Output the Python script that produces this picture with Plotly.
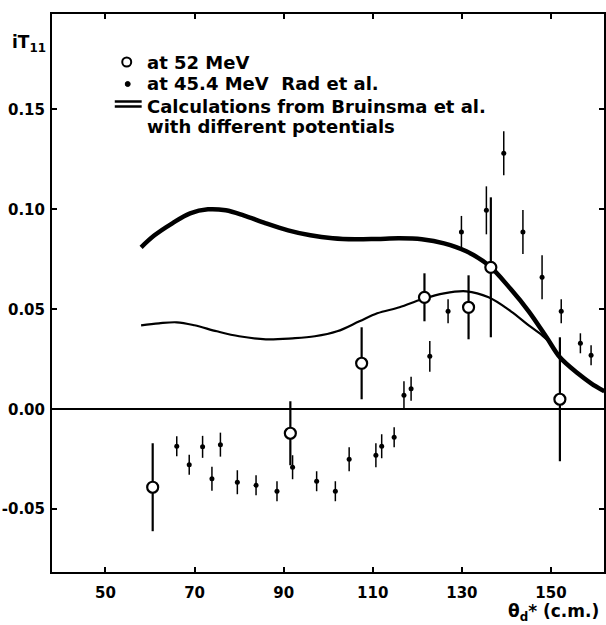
import plotly.graph_objects as go

# ---------------- data ----------------
curve_thick_theta = [58, 61, 65, 69, 73, 77, 81, 86, 91, 96, 101, 106, 111, 116, 121, 126,
                     131, 136, 141, 145, 149, 152, 156, 159, 162]
curve_thick_val = [0.081, 0.087, 0.093, 0.098, 0.100, 0.0995, 0.097, 0.093, 0.0895, 0.087,
                   0.0855, 0.085, 0.0852, 0.0855, 0.085, 0.083, 0.079, 0.072, 0.060, 0.049,
                   0.036, 0.026, 0.018, 0.013, 0.009]

curve_thin_theta = [58, 62, 66, 70, 75, 80, 86, 92, 97, 102, 107, 111, 116, 121, 126, 131,
                    136, 141, 145, 148, 150]
curve_thin_val = [0.042, 0.043, 0.0435, 0.042, 0.039, 0.0365, 0.035, 0.0355, 0.0365, 0.039,
                  0.044, 0.048, 0.051, 0.055, 0.058, 0.059, 0.056, 0.049, 0.042, 0.037, 0.033]

mev52_theta = [60.6, 91.5, 107.5, 121.6, 131.5, 136.5, 152.0]
mev52_val = [-0.039, -0.012, 0.023, 0.056, 0.051, 0.071, 0.005]
mev52_err = [0.022, 0.016, 0.018, 0.012, 0.016, 0.035, 0.031]

rad_theta = [66.0, 68.8, 71.8, 73.9, 75.8, 79.6, 83.8, 88.5, 92.0, 97.4, 101.6, 104.7, 110.7,
             112.0, 114.8, 117.0, 118.6, 122.8, 126.9, 129.9, 135.5, 139.4, 143.7, 148.0,
             152.3, 156.6, 159.0]
rad_val = [-0.0185, -0.0277, -0.0188, -0.0348, -0.0177, -0.0365, -0.038, -0.041, -0.029,
           -0.036, -0.041, -0.025, -0.023, -0.0185, -0.014, 0.007, 0.0102, 0.0265, 0.049,
           0.0887, 0.0995, 0.128, 0.0887, 0.066, 0.049, 0.033, 0.027]
rad_err = [0.005, 0.005, 0.0055, 0.006, 0.006, 0.006, 0.005, 0.005, 0.006, 0.005, 0.005,
           0.006, 0.006, 0.006, 0.005, 0.007, 0.006, 0.0077, 0.006, 0.008, 0.012, 0.011,
           0.011, 0.011, 0.006, 0.005, 0.005]

x_tickvals = [50, 70, 90, 110, 130, 150]
y_tickvals = [-0.05, 0.00, 0.05, 0.10, 0.15]
y_ticktext = ["-0.05", "0.00", "0.05", "0.10", "0.15"]

legend_texts = ["at 52 MeV", "at 45.4 MeV  Rad et al.",
                "Calculations from Bruinsma et al.", "with different potentials"]

# ---------------- layout geometry ----------------
W, H = 606, 625
ML, MR, MT, MB = 52, 0, 14, 53
PW, PH = W - ML - MR, H - MT - MB
FONT = "DejaVu Sans"


def px(xp):
    return (xp - ML) / PW


def py(yp):
    return (H - MB - yp) / PH


fig = go.Figure()

fig.add_trace(go.Scatter(x=curve_thick_theta, y=curve_thick_val, mode="lines",
                         line=dict(color="black", width=4.5, shape="spline"),
                         showlegend=False, hoverinfo="skip"))
fig.add_trace(go.Scatter(x=curve_thin_theta, y=curve_thin_val, mode="lines",
                         line=dict(color="black", width=2.2, shape="spline"),
                         showlegend=False, hoverinfo="skip"))
fig.add_trace(go.Scatter(x=rad_theta, y=rad_val, mode="markers",
                         marker=dict(color="black", size=5),
                         error_y=dict(type="data", array=rad_err, color="black",
                                      thickness=1.5, width=0),
                         showlegend=False))
fig.add_trace(go.Scatter(x=mev52_theta, y=mev52_val, mode="markers",
                         marker=dict(color="white", size=11, symbol="circle",
                                     line=dict(color="black", width=2.2)),
                         error_y=dict(type="data", array=mev52_err, color="black",
                                      thickness=2.2, width=0),
                         showlegend=False))

axis_common = dict(showline=True, linecolor="black", linewidth=2, mirror="ticks",
                   ticks="inside", ticklen=5, tickwidth=1.5, tickcolor="black",
                   showgrid=False,
                   tickfont=dict(family=FONT, size=15, color="black", weight="bold"))

fig.update_xaxes(range=[38.0, 161.9], tickvals=x_tickvals, zeroline=False,
                 ticklabelstandoff=6, **axis_common)
fig.update_yaxes(range=[-0.0814, 0.1977], tickvals=y_tickvals, ticktext=y_ticktext,
                 zeroline=True, zerolinecolor="black", zerolinewidth=2,
                 ticklabelstandoff=2, **axis_common)

annotations = []
# y axis title iT11
annotations.append(dict(x=px(10), y=py(43), xref="paper", yref="paper", xanchor="left",
                        yanchor="middle", showarrow=False,
                        text="iT<sub>11</sub>",
                        font=dict(family=FONT, size=17, color="black", weight="bold")))
# x axis title
annotations.append(dict(x=px(603), y=py(612), xref="paper", yref="paper", xanchor="right",
                        yanchor="middle", showarrow=False,
                        text="θ<sub>d</sub>* (c.m.)",
                        font=dict(family=FONT, size=17, color="black", weight="bold")))
# legend text
leg_y = [62, 84, 106, 127]
for t, yy in zip(legend_texts, leg_y):
    annotations.append(dict(x=px(145), y=py(yy), xref="paper", yref="paper",
                            xanchor="left", yanchor="middle", showarrow=False, text=t,
                            font=dict(family=FONT, size=18, color="black", weight="bold")))

shapes = [
    dict(type="circle", xref="paper", yref="paper", x0=px(122.5), x1=px(131.5),
         y0=py(66.5), y1=py(57.5), line=dict(color="black", width=2), fillcolor="white"),
    dict(type="circle", xref="paper", yref="paper", x0=px(125.5), x1=px(130.5),
         y0=py(86.5), y1=py(81.5), line=dict(color="black", width=1), fillcolor="black"),
    dict(type="line", xref="paper", yref="paper", x0=px(115), x1=px(142),
         y0=py(101.5), y1=py(101.5), line=dict(color="black", width=2.5)),
    dict(type="line", xref="paper", yref="paper", x0=px(115), x1=px(142),
         y0=py(106.5), y1=py(106.5), line=dict(color="black", width=2.5)),
]

fig.update_layout(width=W, height=H, margin=dict(l=ML, r=MR, t=MT, b=MB),
                  paper_bgcolor="white", plot_bgcolor="white",
                  annotations=annotations, shapes=shapes, showlegend=False)

fig.write_html("out.html")
